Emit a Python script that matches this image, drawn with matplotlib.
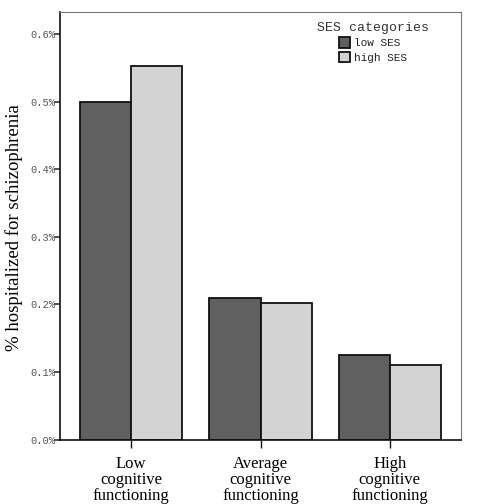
import matplotlib
matplotlib.use("Agg")
import matplotlib.pyplot as plt
import numpy as np
from matplotlib.ticker import FuncFormatter

categories = ["Low\ncognitive\nfunctioning", "Average\ncognitive\nfunctioning", "High\ncognitive\nfunctioning"]
series_names = ["low SES", "high SES"]
low_ses = [0.500, 0.209, 0.125]
high_ses = [0.552, 0.202, 0.110]
y_ticks = [0.0, 0.1, 0.2, 0.3, 0.4, 0.5, 0.6]

fig = plt.figure(figsize=(4.78, 5.04), dpi=100)
ax = fig.add_axes([60/478, 1-439.6/504, 401/478, 427.6/504])

x = np.arange(len(categories))
w = 0.395
b1 = ax.bar(x, low_ses, width=-w, align='edge', color='#606060', edgecolor='#111111', linewidth=1.3, label=series_names[0])
b2 = ax.bar(x, high_ses, width=w, align='edge', color='#d3d3d3', edgecolor='#111111', linewidth=1.3, label=series_names[1])

ax.set_xlim(-0.550, 2.550)
ax.set_ylim(0, 0.6325)
ax.set_yticks(y_ticks)
ax.yaxis.set_major_formatter(FuncFormatter(lambda v, p: f"{v:.1f}%"))
ax.set_xticks(x)
ax.set_xticklabels(categories, family='Liberation Serif', fontsize=12, linespacing=0.98)

for lab in ax.get_yticklabels():
    lab.set_family('Liberation Mono')
    lab.set_fontsize(7.5)
    lab.set_color('#555555')

ax.tick_params(axis='y', direction='out', length=4, width=1.2, pad=-1, color='#333333')
ax.tick_params(axis='x', direction='out', length=6, width=1.0, pad=6, color='#111111')

ax.spines['left'].set_color('#111111')
ax.spines['bottom'].set_color('#111111')
ax.spines['left'].set_linewidth(1.2)
ax.spines['bottom'].set_linewidth(1.2)
ax.spines['top'].set_color('#777777')
ax.spines['right'].set_color('#777777')

ax.set_ylabel("% hospitalized for schizophrenia", family='Liberation Serif', fontsize=13.5)
ax.yaxis.set_label_coords(-0.115, 0.495)
ax.yaxis.label.set_va('center')

leg = ax.legend(handles=[b1, b2], labels=series_names, title="SES categories",
                loc='upper left', bbox_to_anchor=(0.615, 1.0), frameon=False,
                prop={'family': 'Liberation Mono', 'size': 8},
                title_fontproperties={'family': 'Liberation Mono', 'size': 9.5},
                handlelength=1.05, handleheight=1.05, handletextpad=0.3, labelspacing=0.3)
leg.get_title().set_color('#333333')
for t in leg.get_texts():
    t.set_color('#222222')

fig.savefig("out.png", dpi=100)
